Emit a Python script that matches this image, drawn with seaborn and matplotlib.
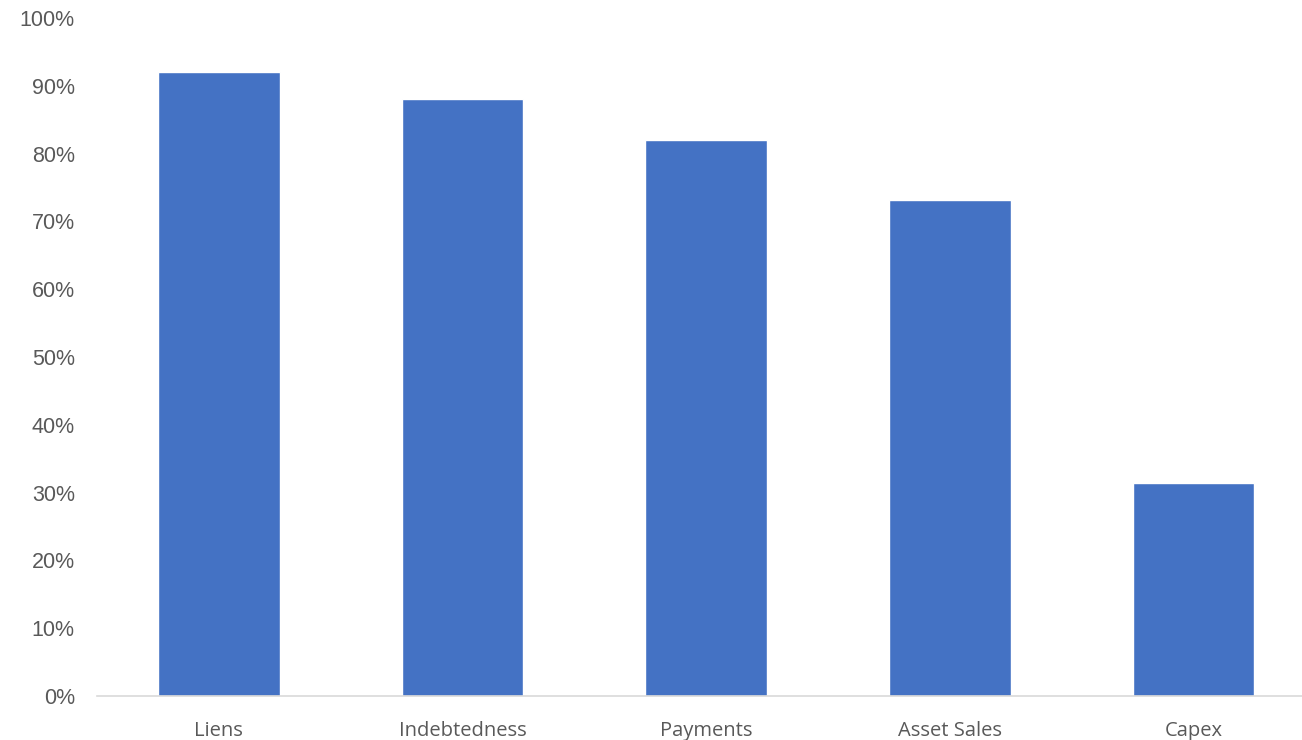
import matplotlib
matplotlib.use("Agg")
import matplotlib.pyplot as plt
import seaborn as sns
import pandas as pd
from matplotlib.ticker import PercentFormatter

categories = ["Liens", "Indebtedness", "Payments", "Asset Sales", "Capex"]
values = [0.92, 0.88, 0.82, 0.732, 0.314]
y_ticks = [0, 0.1, 0.2, 0.3, 0.4, 0.5, 0.6, 0.7, 0.8, 0.9, 1.0]

sns.set_theme(style="white")
plt.rcParams['font.family'] = ['Liberation Sans', 'DejaVu Sans']

df = pd.DataFrame({"cat": categories, "val": values})

fig = plt.figure(figsize=(13.02, 7.40), dpi=100)
ax = fig.add_axes([97/1302, 44/740, 1205/1302, (696-18)/740])
sns.barplot(data=df, x="cat", y="val", color="#4472C4", saturation=1, width=0.5, ax=ax)

ax.set_xlim(-0.5, 4.445)
ax.set_ylim(0, 1.0)
ax.set_yticks(y_ticks)
ax.yaxis.set_major_formatter(PercentFormatter(1.0, decimals=0))
ax.set_xlabel("")
ax.set_ylabel("")
for s in ["top", "right", "left"]:
    ax.spines[s].set_visible(False)
ax.spines["bottom"].set_color("#D9D9D9")
ax.spines["bottom"].set_linewidth(1.2)
ax.tick_params(axis="y", length=0, pad=16, labelsize=15.5, labelcolor="#595959")
ax.tick_params(axis="x", length=0, pad=18, labelsize=14.5, labelcolor="#595959")
for lab in ax.get_xticklabels():
    lab.set_family(['Open Sans', 'DejaVu Sans'])
ax.grid(False)

fig.savefig("out.png", dpi=100)
